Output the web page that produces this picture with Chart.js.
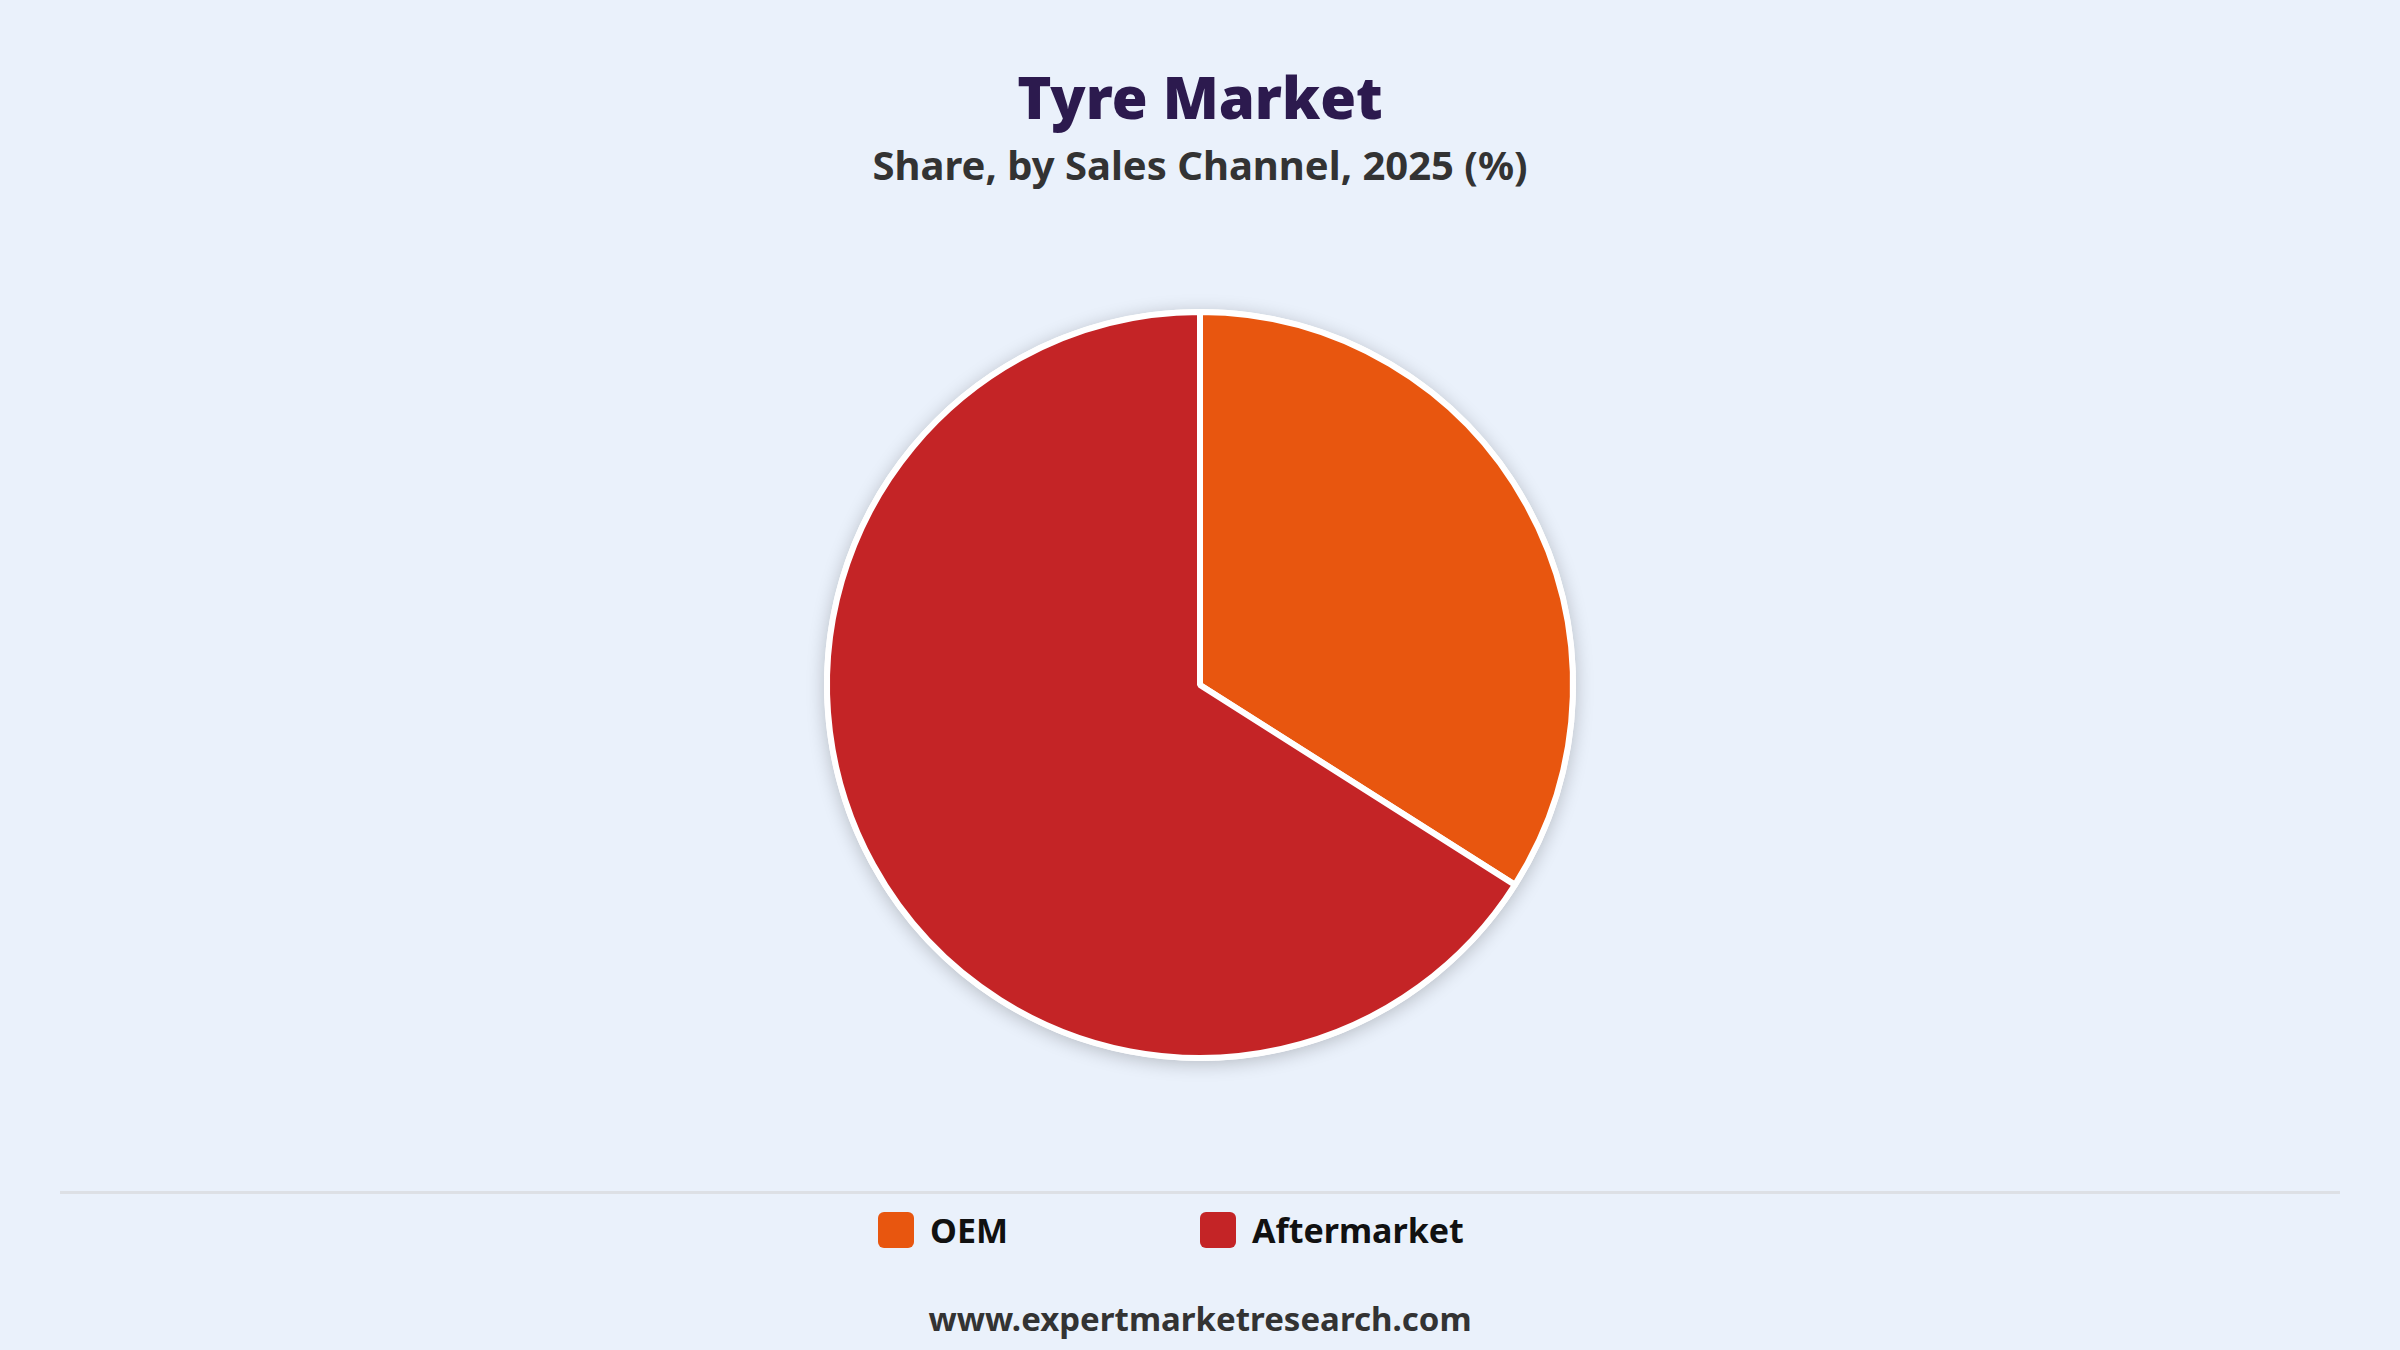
<!DOCTYPE html>
<html>
<head>
<meta charset="utf-8">
<script src="https://cdn.jsdelivr.net/npm/chart.js@4.4.1/dist/chart.umd.min.js"></script>
<style>
  html, body { margin: 0; padding: 0; }
  body {
    width: 2400px; height: 1350px; background: #eaf1fb;
    font-family: "Noto Sans", "Open Sans", sans-serif; position: relative; overflow: hidden;
  }
  #title {
    position: absolute; top: 59px; left: 0; width: 2400px; text-align: center;
    font-size: 58px; font-weight: 900; color: #2c1a4e; line-height: 76px;
  }
  #subtitle {
    position: absolute; top: 139px; left: 0; width: 2400px; text-align: center;
    font-size: 40px; font-weight: 700; color: #333333; line-height: 52px;
  }
  #chartBox { position: absolute; top: 250px; left: 0; width: 2400px; height: 870px; }
  #divider { position: absolute; top: 1191px; left: 60px; width: 2280px; height: 3px; background: #dde0e5; }
  #legend {
    position: absolute; top: 1210px; left: 878px; display: flex;
  }
  .item { width: 322px; display: flex; align-items: center; height: 40px; }
  .box { width: 36px; height: 36px; border-radius: 6px; margin-right: 16px; }
  .lbl { font-size: 34px; font-weight: 700; color: #111111; }
  #footer {
    position: absolute; top: 1296px; left: 0; width: 2400px; text-align: center;
    font-size: 33px; font-weight: 700; color: #333333;
  }
</style>
</head>
<body>
<div id="title">Tyre Market</div>
<div id="subtitle">Share, by Sales Channel, 2025 (%)</div>
<div id="chartBox"><canvas id="pie"></canvas></div>
<div id="divider"></div>
<div id="legend"></div>
<div id="footer">www.expertmarketresearch.com</div>
<script>
const channels = ["OEM", "Aftermarket"];
const shares = [34, 66];
const colors = ["#e8560f", "#c42426"];

// soft shadow behind the pie
const pieShadow = {
  id: "pieShadow",
  beforeDatasetsDraw(chart) {
    const arc = chart.getDatasetMeta(0).data[0];
    if (!arc) return;
    const ctx = chart.ctx;
    ctx.save();
    ctx.shadowColor = "rgba(0, 0, 0, 0.22)";
    ctx.shadowBlur = 18;
    ctx.shadowOffsetY = 3;
    ctx.fillStyle = "#ffffff";
    ctx.beginPath();
    ctx.arc(arc.x, arc.y, arc.outerRadius + 3, 0, Math.PI * 2);
    ctx.fill();
    ctx.restore();
  },
};

new Chart(document.getElementById("pie").getContext("2d"), {
  type: "pie",
  data: {
    labels: channels,
    datasets: [
      {
        data: shares,
        backgroundColor: colors,
        borderColor: "#ffffff",
        borderWidth: 6,
      },
    ],
  },
  options: {
    responsive: true,
    maintainAspectRatio: false,
    animation: false,
    radius: 373,
    plugins: {
      legend: { display: false },
      tooltip: { enabled: false },
    },
  },
  plugins: [pieShadow],
});

document.getElementById("legend").innerHTML = channels
  .map(
    (c, i) =>
      `<div class="item"><div class="box" style="background:${colors[i]}"></div><span class="lbl">${c}</span></div>`
  )
  .join("");
</script>
</body>
</html>
